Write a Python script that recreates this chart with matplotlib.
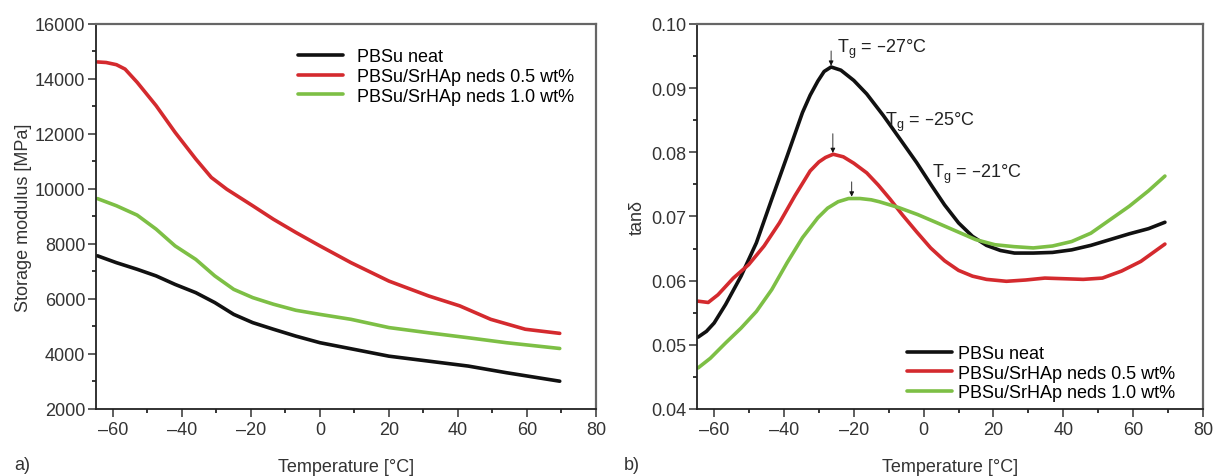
import matplotlib
matplotlib.use("Agg")
import matplotlib.pyplot as plt
from matplotlib.ticker import MultipleLocator, FuncFormatter

plt.rcParams['font.family'] = ['Liberation Sans', 'DejaVu Sans']
plt.rcParams['mathtext.default'] = 'regular'

labels = ["PBSu neat", "PBSu/SrHAp neds 0.5 wt%", "PBSu/SrHAp neds 1.0 wt%"]
colors = ["#111111", "#d42a2e", "#7dbf45"]

# a) storage modulus [MPa] vs temperature
T_neat_a = [-64.5, -59, -53, -47.5, -42, -36, -30.5, -25, -19.5, -13.5, -7, 0, 9, 20, 31.5, 43, 54, 69.5]
E_neat = [7570, 7320, 7080, 6840, 6530, 6230, 5870, 5440, 5140, 4900, 4650, 4410, 4190, 3920, 3740, 3560, 3320, 3010]
T_05_a = [-64.5, -62, -59, -56.5, -53, -47.5, -42, -36, -31.5, -27, -19.5, -13.5, -7, 0, 9, 20, 31.5, 40.5, 49.5, 59.5, 69.5]
E_05 = [14620, 14600, 14520, 14360, 13880, 13030, 12060, 11090, 10420, 9990, 9390, 8900, 8420, 7930, 7320, 6650, 6110, 5750, 5260, 4900, 4750]
T_10_a = [-64.5, -59, -53, -47.5, -42, -36, -30.5, -25, -19.5, -13.5, -7, 0, 9, 20, 31.5, 43, 54, 69.5]
E_10 = [9650, 9390, 9050, 8540, 7930, 7440, 6840, 6350, 6050, 5810, 5590, 5440, 5260, 4960, 4770, 4590, 4410, 4200]

# b) tan delta vs temperature
T_neat_b = [-64.6, -62.2, -60, -56.7, -52.3, -47.9, -43.5, -39.1, -34.7, -32.5, -30.3, -28.5, -26.5, -23.7, -20, -16.3,
            -11.5, -6.8, -2, 2.3, 6, 10, 14, 18, 22, 26, 31.4, 36.9, 42.4, 47.9, 53.4, 58.9, 64.4, 69.1]
tan_neat = [0.0512, 0.0521, 0.0534, 0.0563, 0.0607, 0.0659, 0.0727, 0.0794, 0.0862, 0.0889, 0.0911, 0.0926, 0.0933, 0.0928, 0.0912, 0.0891,
            0.0857, 0.0821, 0.0784, 0.0748, 0.0718, 0.0690, 0.0669, 0.0655, 0.0647, 0.0643, 0.0643, 0.0644, 0.0648, 0.0655, 0.0664, 0.0673, 0.0681, 0.0691]
T_05_b = [-64.6, -61.7, -58.9, -54.5, -50.1, -45.7, -41.3, -36.9, -32.5, -30, -28.1, -25.9, -23, -20, -16.3, -13, -9.6, -6,
          -2, 2, 6, 10, 14, 18, 23.7, 29.2, 34.7, 40.2, 45.7, 51.2, 56.7, 62.2, 69.1]
tan_05 = [0.0568, 0.0566, 0.0578, 0.0604, 0.0625, 0.0654, 0.0690, 0.0732, 0.0771, 0.0785, 0.0792, 0.0797, 0.0793, 0.0783, 0.0768, 0.0749, 0.0727, 0.0702,
          0.0676, 0.0651, 0.0631, 0.0616, 0.0607, 0.0602, 0.0599, 0.0601, 0.0604, 0.0603, 0.0602, 0.0604, 0.0615, 0.0630, 0.0657]
T_10_b = [-64.6, -61.1, -56.7, -52.3, -47.9, -43.5, -39.1, -34.7, -30.3, -27.5, -24.5, -21.5, -18.2, -15, -12.7, -7.2, -1.7, 3.9,
          9.4, 14.9, 20.4, 25.9, 31.4, 36.9, 42.4, 47.9, 53.4, 58.9, 64.4, 69.1]
tan_10 = [0.0464, 0.0479, 0.0503, 0.0526, 0.0552, 0.0586, 0.0628, 0.0667, 0.0698, 0.0713, 0.0723, 0.0728, 0.0728, 0.0726, 0.0723, 0.0714, 0.0703, 0.0690,
          0.0677, 0.0664, 0.0656, 0.0653, 0.0651, 0.0654, 0.0661, 0.0674, 0.0695, 0.0716, 0.0740, 0.0763]

# Tg markers: (arrow x, arrow top, arrow tip), label (x, y, text)
tg_arrows = [(-26.5, 0.0958, 0.0935), (-26.0, 0.0829, 0.0799), (-20.6, 0.0754, 0.0731)]
tg_texts = [(-24.9, 0.0956, "–27"), (-11.1, 0.0842, "–25"), (2.3, 0.0762, "–21")]

dash = FuncFormatter(lambda v, p: f"{v:g}".replace("-", "\u2013"))

fig = plt.figure(figsize=(12.15, 4.77), dpi=100)
ax1 = fig.add_axes([0.0788, 0.1405, 0.4117, 0.8071])
ax2 = fig.add_axes([0.5734, 0.1405, 0.4167, 0.8071])

lw = 2.6
for T, y, c, lab in zip([T_neat_a, T_05_a, T_10_a], [E_neat, E_05, E_10], colors, labels):
    ax1.plot(T, y, color=c, lw=lw, label=lab, solid_capstyle='round', solid_joinstyle='round')
for T, y, c, lab in zip([T_neat_b, T_05_b, T_10_b], [tan_neat, tan_05, tan_10], colors, labels):
    ax2.plot(T, y, color=c, lw=lw, label=lab, solid_capstyle='round', solid_joinstyle='round')

for (x, top, tip) in tg_arrows:
    ax2.annotate("", xy=(x, tip), xytext=(x, top),
                 arrowprops=dict(arrowstyle="-|>", color="#111111", lw=0.6,
                                 mutation_scale=7, shrinkA=0, shrinkB=0))
for (x, y, t) in tg_texts:
    ax2.text(x, y, r"$T_g$ = " + t + "°C", fontsize=13, ha="left", va="baseline", color="#222222")

for ax in (ax1, ax2):
    ax.set_xlim(-65, 80)
    ax.xaxis.set_major_locator(MultipleLocator(20))
    ax.xaxis.set_minor_locator(MultipleLocator(10))
    ax.xaxis.set_major_formatter(dash)
    ax.tick_params(which="major", direction="out", length=6, width=1.1, labelsize=13, colors="#333333")
    ax.tick_params(which="minor", direction="out", length=3, width=1.1)
    ax.tick_params(axis="y", pad=1.5)
    ax.tick_params(axis="x", pad=3)
    for s in ("left", "bottom"):
        ax.spines[s].set_color("#222222")
        ax.spines[s].set_linewidth(1.3)
    for s in ("top", "right"):
        ax.spines[s].set_color("#666666")
        ax.spines[s].set_linewidth(1.6)
    ax.set_xlabel("Temperature [°C]", fontsize=13, labelpad=14, color="#333333")

ax1.set_ylim(2000, 16000)
ax1.yaxis.set_major_locator(MultipleLocator(2000))
ax1.yaxis.set_minor_locator(MultipleLocator(1000))
ax1.set_ylabel("Storage modulus [MPa]", fontsize=13, labelpad=2, color="#333333")

ax2.set_ylim(0.04, 0.10)
ax2.yaxis.set_major_locator(MultipleLocator(0.01))
ax2.yaxis.set_minor_locator(MultipleLocator(0.005))
ax2.yaxis.set_major_formatter(FuncFormatter(lambda v, p: f"{v:.2f}"))
ax2.set_ylabel("tanδ", fontsize=13, labelpad=4, color="#333333")

ax1.legend(loc="upper left", bbox_to_anchor=(0.404, 0.937), frameon=False, fontsize=13,
           handlelength=2.5, handletextpad=0.75, labelspacing=0.15, borderpad=0, borderaxespad=0)
ax2.legend(loc="lower left", bbox_to_anchor=(0.415, 0.02), frameon=False, fontsize=13,
           handlelength=2.5, handletextpad=0.35, labelspacing=0.15, borderpad=0, borderaxespad=0)

fig.text(14 / 1215, 1 - 466 / 477, "a)", fontsize=13, va="center", color="#333333")
fig.text(624 / 1215, 1 - 466 / 477, "b)", fontsize=13, va="center", color="#333333")

fig.savefig("out.png", dpi=100)
